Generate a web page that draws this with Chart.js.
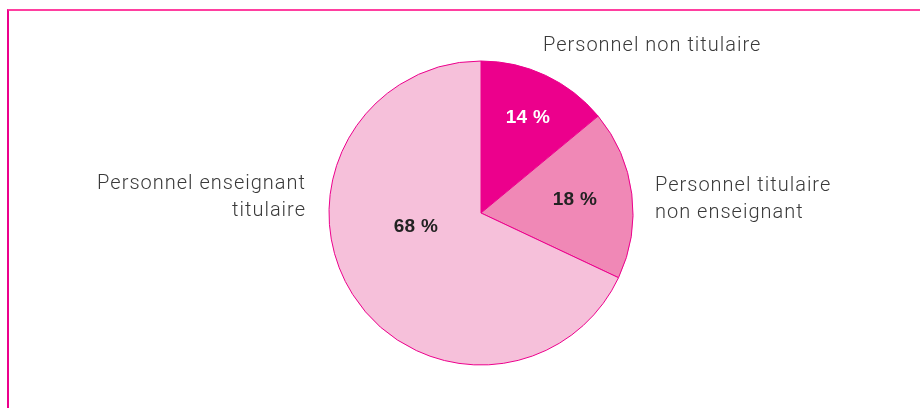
<!DOCTYPE html>
<html>
<head>
<meta charset="utf-8">
<script src="https://cdn.jsdelivr.net/npm/chart.js@4/dist/chart.umd.min.js"></script>
<style>
  html, body { margin: 0; padding: 0; background: #fff; }
  #wrap { position: relative; width: 920px; height: 408px; }
  #frame {
    position: absolute; left: 7px; top: 9px; right: 0; bottom: 0;
    border-top: 2px solid #ff3fa0;
    border-left: 2px solid #ec008c;
  }
  #pieChart { position: absolute; left: 0; top: 0; }
</style>
</head>
<body>
<div id="wrap">
  <div id="frame"></div>
  <canvas id="pieChart" width="920" height="408"></canvas>
</div>
<script>
/************************ DATA ************************** */
const categories = [
  "Personnel non titulaire",
  "Personnel titulaire non enseignant",
  "Personnel enseignant titulaire",
];
const shares = [14, 18, 68];
const sliceColors = ["#ec008c", "#f088b6", "#f6c0da"];

// outside labels (lines), alignment and placement relative to pie center
const outsideLabels = [
  { lines: ["Personnel non titulaire"], align: "left", dx: 62, dy: -167 },
  { lines: ["Personnel titulaire", "non enseignant"], align: "left", dx: 174, dy: -27 },
  { lines: ["Personnel enseignant", "titulaire"], align: "right", dx: -175, dy: -29 },
];
// percentage labels inside the slices
const innerLabels = [
  { color: "#ffffff", dx: 47, dy: -95 },
  { color: "#222222", dx: 94, dy: -13 },
  { color: "#222222", dx: -65, dy: 14 },
];

/************************ PLUGIN ************************** */
const pieLabels = {
  id: "pieLabels",
  afterDatasetsDraw(chart) {
    const c = chart.ctx;
    const arc = chart.getDatasetMeta(0).data[0];
    const cx = arc.x;
    const cy = arc.y;

    c.save();
    c.textBaseline = "middle";

    // percentages
    c.font = "bold 19px 'Liberation Sans', Arial, sans-serif";
    c.textAlign = "center";
    c.letterSpacing = "0.3px";
    for (let i = 0; i < shares.length; i++) {
      c.fillStyle = innerLabels[i].color;
      c.fillText(`${shares[i]} %`, cx + innerLabels[i].dx, cy + innerLabels[i].dy);
    }

    // category names
    c.font = "300 20px Roboto, 'Liberation Sans', sans-serif";
    c.letterSpacing = "1px";
    c.fillStyle = "#3a3a3a";
    for (let i = 0; i < outsideLabels.length; i++) {
      let lab = outsideLabels[i];
      c.textAlign = lab.align;
      for (let j = 0; j < lab.lines.length; j++) {
        c.fillText(lab.lines[j], cx + lab.dx, cy + lab.dy + j * 27);
      }
    }
    c.restore();
  },
};

/************************ CHART ************************** */
const ctx = document.getElementById("pieChart");
const myPieChart = new Chart(ctx, {
  type: "pie",
  data: {
    labels: categories,
    datasets: [
      {
        data: shares,
        backgroundColor: sliceColors,
        borderColor: "#ec008c",
        borderWidth: 1,
      },
    ],
  },
  options: {
    responsive: false,
    animation: false,
    radius: 152,
    layout: {
      padding: { left: 42, right: 0, top: 18, bottom: 0 },
    },
    plugins: {
      legend: { display: false },
      tooltip: { enabled: false },
    },
  },
  plugins: [pieLabels],
});
</script>
</body>
</html>
